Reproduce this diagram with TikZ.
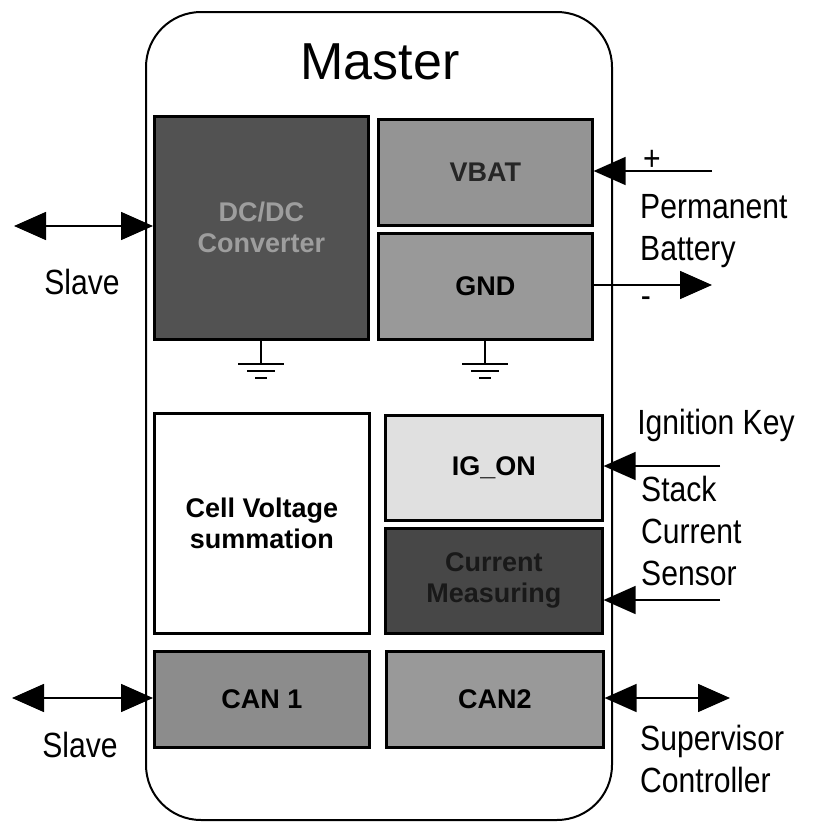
\documentclass[tikz,border=0pt]{standalone}
\usepackage{fontspec}
\setmainfont{Liberation Sans}
\newfontfamily\lblfont[FakeStretch=0.86]{Liberation Sans}
\usetikzlibrary{arrows.meta}
\begin{document}
\begin{tikzpicture}[x=1pt,y=-1pt,
  blk/.style={draw, line width=2.6pt, rectangle, anchor=north west, inner sep=0pt,
     align=center, font=\fontsize{27}{31}\selectfont\bfseries},
  lbl/.style={font=\lblfont\fontsize{35}{42}\selectfont, align=left, inner sep=0pt},
  arr/.style={line width=1.6pt, -{Triangle[length=32pt,width=28pt]}},
  darr/.style={line width=1.6pt, {Triangle[length=32pt,width=28pt]}-{Triangle[length=32pt,width=28pt]}},
  gnd/.style={line width=1.8pt}
]
\useasboundingbox (0,0) rectangle (817,827);
% outer master box
\draw[line width=2pt, rounded corners=55pt] (146,12) rectangle (612,820);
\node[font=\fontsize{52}{60}\selectfont] (title) at (380,62) {Master};

% blocks
\node[blk, fill=black!68, text=black!38, minimum width=214pt, minimum height=223pt] (dcdc) at (153,115) {DC/DC\\Converter};
\node[blk, fill=black!42, text=black!85, minimum width=214pt, minimum height=106pt] (vbat) at (377,118) {VBAT};
\node[blk, fill=black!40, minimum width=214pt, minimum height=106pt] (gnd) at (377,232) {GND};
\node[blk, fill=white, minimum width=215pt, minimum height=220pt] (cvs) at (153,412) {Cell Voltage\\summation};
\node[blk, fill=black!12, minimum width=217pt, minimum height=105pt] (ign) at (384,414) {IG\_ON};
\node[blk, fill=black!72, text=black!90, minimum width=217pt, minimum height=105pt] (cur) at (384,527) {Current\\Measuring};
\node[blk, fill=black!45, minimum width=215pt, minimum height=96pt] (can1) at (153,650) {CAN 1};
\node[blk, fill=black!40, minimum width=217pt, minimum height=96pt] (can2) at (385,650) {CAN2};

% grounds
\coordinate (g1) at (dcdc.south |- 0,364);
\coordinate (g2) at (gnd.south |- 0,364);
\foreach \g in {g1,g2}{
  \draw[gnd] (\g) -- (\g |- dcdc.south);
  \draw[gnd] ([xshift=-23pt]\g) -- ([xshift=23pt]\g);
  \draw[gnd] ([xshift=-14pt,yshift=-7pt]\g) -- ([xshift=14pt,yshift=-7pt]\g);
  \draw[gnd] ([xshift=-6pt,yshift=-14pt]\g) -- ([xshift=6pt,yshift=-14pt]\g);
}

% external connections
\coordinate (slA) at (14,226);
\draw[darr] (slA) -- (dcdc.west |- slA);
\node[lbl] (slave1) at (82,282) {Slave};

\coordinate (vbIn) at (712,171);
\draw[arr] (vbIn) -- (vbat.east |- vbIn);
\node[lbl] (plus) at (652,160) {+};
\node[lbl, anchor=north west] (perm) at (640,194) {Permanent\\Battery};

\coordinate (gndOut) at (712,285);
\draw[arr] (gnd.east |- gndOut) -- (gndOut);
\node[lbl] (minus) at (646,302) {-};

\node[lbl] (ignkey) at (716,425) {Ignition Key};
\coordinate (ignIn) at (720,466);
\draw[arr] (ignIn) -- (ign.east |- ignIn);
\node[lbl, anchor=north west] (scs) at (641,476) {Stack\\Current\\Sensor};
\coordinate (curIn) at (720,600);
\draw[arr] (curIn) -- (cur.east |- curIn);

\coordinate (slB) at (12,698);
\draw[darr] (slB) -- (can1.west |- slB);
\node[lbl] (slave2) at (80,745) {Slave};

\coordinate (supC) at (730,698);
\draw[darr] (can2.east |- supC) -- (supC);
\node[lbl, anchor=north west] (sup) at (640,725) {Supervisor\\Controller};
\end{tikzpicture}
\end{document}
